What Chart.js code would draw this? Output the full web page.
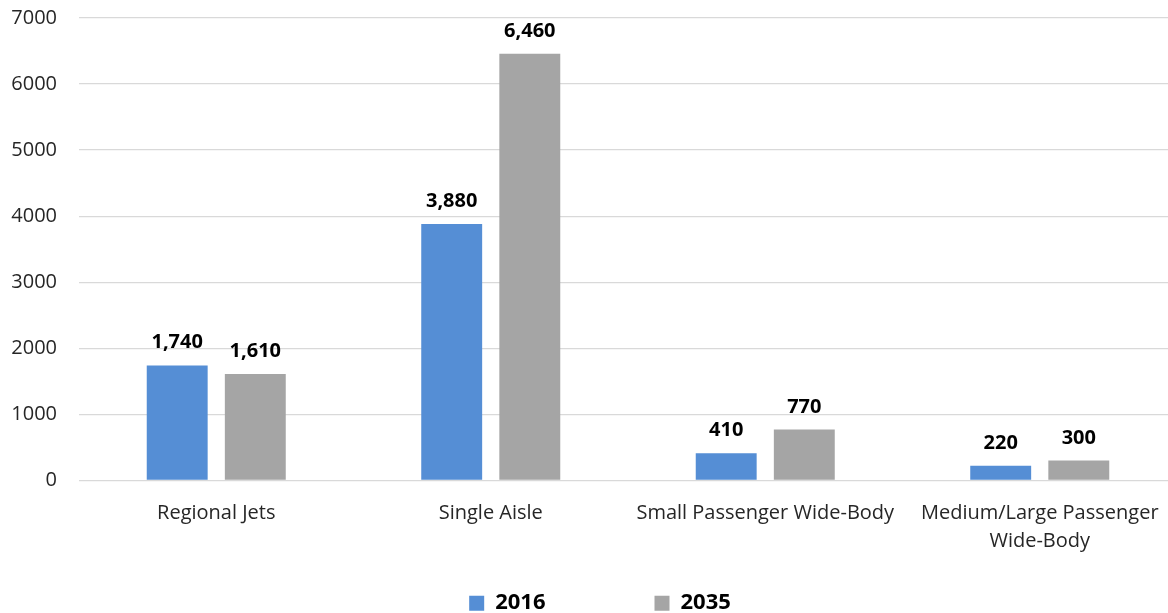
<!DOCTYPE html>
<html>
<head>
<meta charset="utf-8">
<script src="https://cdn.jsdelivr.net/npm/chart.js@4"></script>
<style>
  html, body { margin: 0; padding: 0; background: #fff; overflow: hidden; }
  #wrap { position: relative; width: 1200px; height: 613px; overflow: hidden; }
  #c { position: absolute; left: 0; top: -16px; }
</style>
</head>
<body>
<div id="wrap"><canvas id="c" width="1200" height="656"></canvas></div>
<script>
// Aircraft fleet by segment
const categories = [
  'Regional Jets',
  'Single Aisle',
  'Small Passenger Wide-Body',
  ['Medium/Large Passenger', 'Wide-Body']
];
const fleet2016 = [1740, 3880, 410, 220];
const fleet2035 = [1610, 6460, 770, 300];
const yTicks = [0, 1000, 2000, 3000, 4000, 5000, 6000, 7000];

const FONT = '"Open Sans", "Noto Sans", sans-serif';

// Bold value labels above each bar
const valueLabels = {
  id: 'valueLabels',
  afterDatasetsDraw(chart) {
    const ctx = chart.ctx;
    ctx.save();
    ctx.font = 'bold 20px ' + FONT;
    ctx.fillStyle = '#000';
    ctx.textAlign = 'center';
    ctx.textBaseline = 'alphabetic';
    chart.data.datasets.forEach((ds, i) => {
      chart.getDatasetMeta(i).data.forEach((bar, j) => {
        ctx.fillText(ds.data[j].toLocaleString('en-US'), bar.x, bar.y - 17);
      });
    });
    ctx.restore();
  }
};

new Chart(document.getElementById('c'), {
  type: 'bar',
  data: {
    labels: categories,
    datasets: [
      { label: '2016', data: fleet2016, backgroundColor: '#558ED5' },
      { label: '2035', data: fleet2035, backgroundColor: '#A5A5A5' }
    ]
  },
  options: {
    responsive: false,
    animation: false,
    events: [],
    layout: { padding: { left: 0, right: 0, top: 1, bottom: 15.8 } },
    datasets: {
      bar: { categoryPercentage: 0.569, barPercentage: 0.78 }
    },
    scales: {
      x: {
        grid: { display: false, drawTicks: false },
        border: { display: false },
        ticks: {
          color: '#262626',
          font: { family: FONT, size: 20, lineHeight: 1.4 },
          padding: 19,
          maxRotation: 0,
          autoSkip: false
        },
        afterFit(scale) { scale.height = 101.8; }
      },
      y: {
        min: 0,
        max: 7000,
        afterBuildTicks(scale) { scale.ticks = yTicks.map(v => ({ value: v })); },
        grid: { color: '#D9D9D9', lineWidth: 1.3, drawTicks: false },
        border: { display: false },
        ticks: {
          color: '#262626',
          font: { family: FONT, size: 20 },
          padding: 22,
          callback: v => String(v)
        },
        afterFit(scale) { scale.width = 79; }
      },
      // empty margin on the right edge of the plot
      yRight: {
        position: 'right',
        min: 0,
        max: 7000,
        grid: { display: false, drawTicks: false },
        border: { display: false },
        ticks: { display: false },
        afterFit(scale) { scale.width = 23; }
      }
    },
    plugins: {
      legend: {
        position: 'bottom',
        labels: {
          boxWidth: 15,
          boxHeight: 15,
          padding: 10,
          color: '#000',
          font: { family: FONT, size: 22, weight: 'bold', lineHeight: 1.2 },
          generateLabels(chart) {
            const items = Chart.defaults.plugins.legend.labels.generateLabels(chart);
            // widen the gap after the first entry
            items.forEach((it, i) => {
              it.lineWidth = 0;
              if (i < items.length - 1) it.text = it.text + '\u2003\u2003\u2003\u2003\u2002';
            });
            return items;
          }
        }
      },
      tooltip: { enabled: false }
    }
  },
  plugins: [valueLabels]
});
</script>
</body>
</html>
